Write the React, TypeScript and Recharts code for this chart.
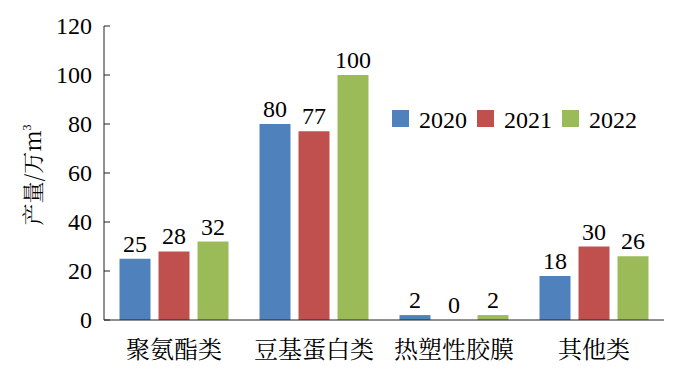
import { BarChart, Bar, XAxis, YAxis, Legend, LabelList } from 'recharts';

const categories = ['聚氨酯类', '豆基蛋白类', '热塑性胶膜', '其他类'];
const y2020 = [25, 80, 2, 18];
const y2021 = [28, 77, 0, 30];
const y2022 = [32, 100, 2, 26];
const yTicks = [0, 20, 40, 60, 80, 100, 120];
const bandTicks = [0, 1, 2, 3, 4];

const series = [
  { key: 'y2020', name: '2020', color: '#4F81BD' },
  { key: 'y2021', name: '2021', color: '#C0504D' },
  { key: 'y2022', name: '2022', color: '#9BBB59' },
];

const data = categories.map((c, i) => ({
  name: c,
  y2020: y2020[i],
  y2021: y2021[i],
  y2022: y2022[i],
}));

const FONT = 'Liberation Serif, Noto Serif CJK SC, serif';
const CJK_FONT = 'Noto Serif CJK SC, serif';
const AXIS = '#222';

function LegendContent({ payload }: any) {
  return (
    <svg width={300} height={30} style={{ fontFamily: FONT }}>
      {(payload || []).map((p: any, i: number) => (
        <g key={p.value} transform={`translate(${i * 85},0)`}>
          <rect x={0} y={6} width={17} height={17} fill={p.color} />
          <text x={27} y={24} style={{ fontFamily: FONT, fontSize: 24 }} fill="#000">
            {p.value}
          </text>
        </g>
      ))}
    </svg>
  );
}

// custom label so that a zero value still prints "0"
function ValueLabel(props: any) {
  const { x, y, width, height, value } = props;
  if (value == null) return null;
  const top = Math.min(Number(y), Number(y) + Number(height || 0));
  return (
    <text
      x={Number(x) + Number(width) / 2}
      y={top - 7}
      textAnchor="middle"
      style={{ fontFamily: FONT, fontSize: 24 }}
      fill="#000"
    >
      {String(value)}
    </text>
  );
}

function CatTick(props: any) {
  const { x, y, payload } = props;
  return (
    <text x={x} y={Number(y) + 38} textAnchor="middle" style={{ fontFamily: CJK_FONT, fontSize: 24 }} fill="#000">
      {payload.value}
    </text>
  );
}

function NumTick(props: any) {
  const { x, y, payload } = props;
  return (
    <text x={Number(x)} y={Number(y) + 8} textAnchor="end" style={{ fontFamily: FONT, fontSize: 24 }} fill="#000">
      {payload.value}
    </text>
  );
}

function YLabel() {
  return (
    <text
      transform="translate(41,175) rotate(-90)"
      textAnchor="middle"
      style={{ fontFamily: CJK_FONT, fontSize: 22 }}
      fill="#000"
    >
      产量/万m
      <tspan style={{ fontFamily: FONT, fontSize: 12 }} dy={-10}>3</tspan>
    </text>
  );
}

export default function App() {
  return (
    <div style={{ position: 'absolute', left: 0, top: 0, background: '#fff', fontFamily: FONT }}>
      <BarChart
        width={693}
        height={374}
        data={data}
        margin={{ top: 26, right: 29, bottom: 0, left: 0 }}
        barCategoryGap={15.5}
        barGap={8}
        style={{ fontFamily: FONT }}
      >
        <XAxis
          xAxisId="band"
          type="number"
          domain={[0, 4]}
          ticks={bandTicks}
          allowDataOverflow
          height={0}
          axisLine={false}
          tick={false}
          tickSize={-7}
          tickLine={{ stroke: AXIS }}
        />
        <XAxis
          dataKey="name"
          height={54}
          axisLine={{ stroke: AXIS }}
          tickLine={false}
          tickSize={0}
          tickMargin={0}
          interval={0}
          tick={<CatTick />}
        />
        <YAxis
          width={104}
          domain={[0, 120]}
          ticks={yTicks}
          axisLine={{ stroke: AXIS }}
          tickLine={{ stroke: AXIS }}
          tickSize={-6}
          tickMargin={18}
          tick={<NumTick />}
          label={<YLabel />}
        />
        <Legend
          layout="horizontal"
          verticalAlign="middle"
          align="center"
          content={<LegendContent />}
          wrapperStyle={{ left: 392, top: 104, width: 300 }}
        />
        {series.map((s) => (
          <Bar
            key={s.key}
            dataKey={s.key}
            name={s.name}
            fill={s.color}
            minPointSize={0.01}
            isAnimationActive={false}
          >
            <LabelList dataKey={s.key} content={<ValueLabel />} />
          </Bar>
        ))}
      </BarChart>
    </div>
  );
}
